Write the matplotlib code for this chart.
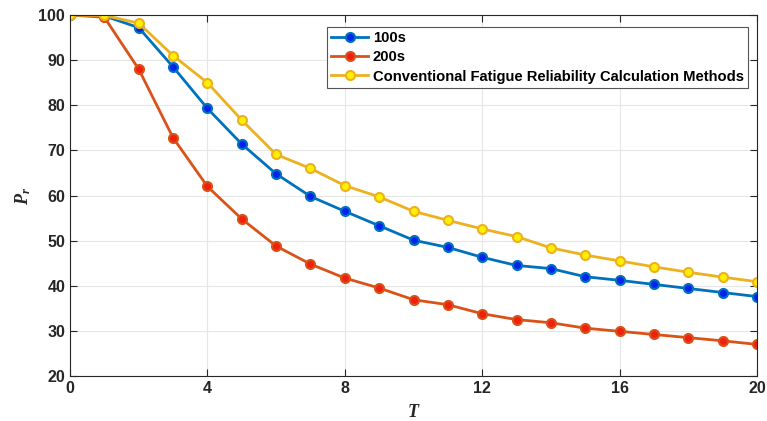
import matplotlib
matplotlib.use("Agg")
import matplotlib.pyplot as plt

plt.rcParams["font.family"] = ["Liberation Sans", "DejaVu Sans"]
plt.rcParams["mathtext.fontset"] = "custom"
plt.rcParams["mathtext.it"] = "Liberation Serif:italic:bold"
plt.rcParams["mathtext.rm"] = "Liberation Serif:bold"
plt.rcParams["mathtext.bf"] = "Liberation Serif:bold"

T = list(range(0, 21))
p100 = [100, 99.8, 97.2, 88.5, 79.3, 71.4, 64.8, 59.8, 56.5, 53.3, 50.1, 48.5, 46.3, 44.5, 43.8, 42.0, 41.2, 40.3, 39.4, 38.5, 37.6]
p200 = [100, 99.5, 88.0, 72.8, 62.0, 54.8, 48.8, 44.8, 41.7, 39.5, 36.9, 35.8, 33.8, 32.5, 31.8, 30.6, 29.9, 29.2, 28.5, 27.8, 27.0]
pconv = [100, 99.9, 98.2, 91.0, 85.0, 76.7, 69.1, 66.0, 62.2, 59.7, 56.5, 54.5, 52.6, 50.9, 48.4, 46.8, 45.5, 44.2, 43.0, 41.9, 40.9]
labels = ["100s", "200s", "Conventional Fatigue Reliability Calculation Methods"]
xticks = [0, 4, 8, 12, 16, 20]
yticks = [20, 30, 40, 50, 60, 70, 80, 90, 100]

fig = plt.figure(figsize=(7.67, 4.21), dpi=100)
ax = fig.add_axes([70/767, 1 - 376/421, (757-70)/767, (376-15)/421])

styles = [("#0072BD", "#0022EE"), ("#D95319", "#F02010"), ("#EDB120", "#FFF000")]
for y, lab, (lc, fc) in zip([p100, p200, pconv], labels, styles):
    ax.plot(T, y, color=lc, lw=2, marker="o", ms=6.5, mfc=fc, mec=lc, mew=1.5, label=lab)

ax.set_xlim(0, 20)
ax.set_ylim(20, 100)
ax.set_xticks(xticks)
ax.set_yticks(yticks)
ax.grid(True, color="#e6e6e6", lw=0.8)
ax.set_axisbelow(True)
for s in ax.spines.values():
    s.set_color("#262626")
    s.set_linewidth(0.8)
ax.tick_params(direction="in", length=5, width=0.8, colors="#262626", labelsize=11.5, top=True, right=True)
for lbl in ax.get_xticklabels() + ax.get_yticklabels():
    lbl.set_fontweight("bold")
    lbl.set_color("#262626")

ax.set_xlabel("$T$", fontsize=13, labelpad=6, color="#262626")
ax.set_ylabel("$P_r$", fontsize=13, labelpad=4, color="#262626")

leg = ax.legend(loc="upper right", bbox_to_anchor=(0.987, 0.967), borderaxespad=0,
                fancybox=False, framealpha=1,
                edgecolor="#555555", prop={"weight": "bold", "size": 10.6},
                handlelength=2.5, borderpad=0.3, labelspacing=0.35, handletextpad=0.3)
leg.get_frame().set_linewidth(0.8)

fig.savefig("out.png", dpi=100)
